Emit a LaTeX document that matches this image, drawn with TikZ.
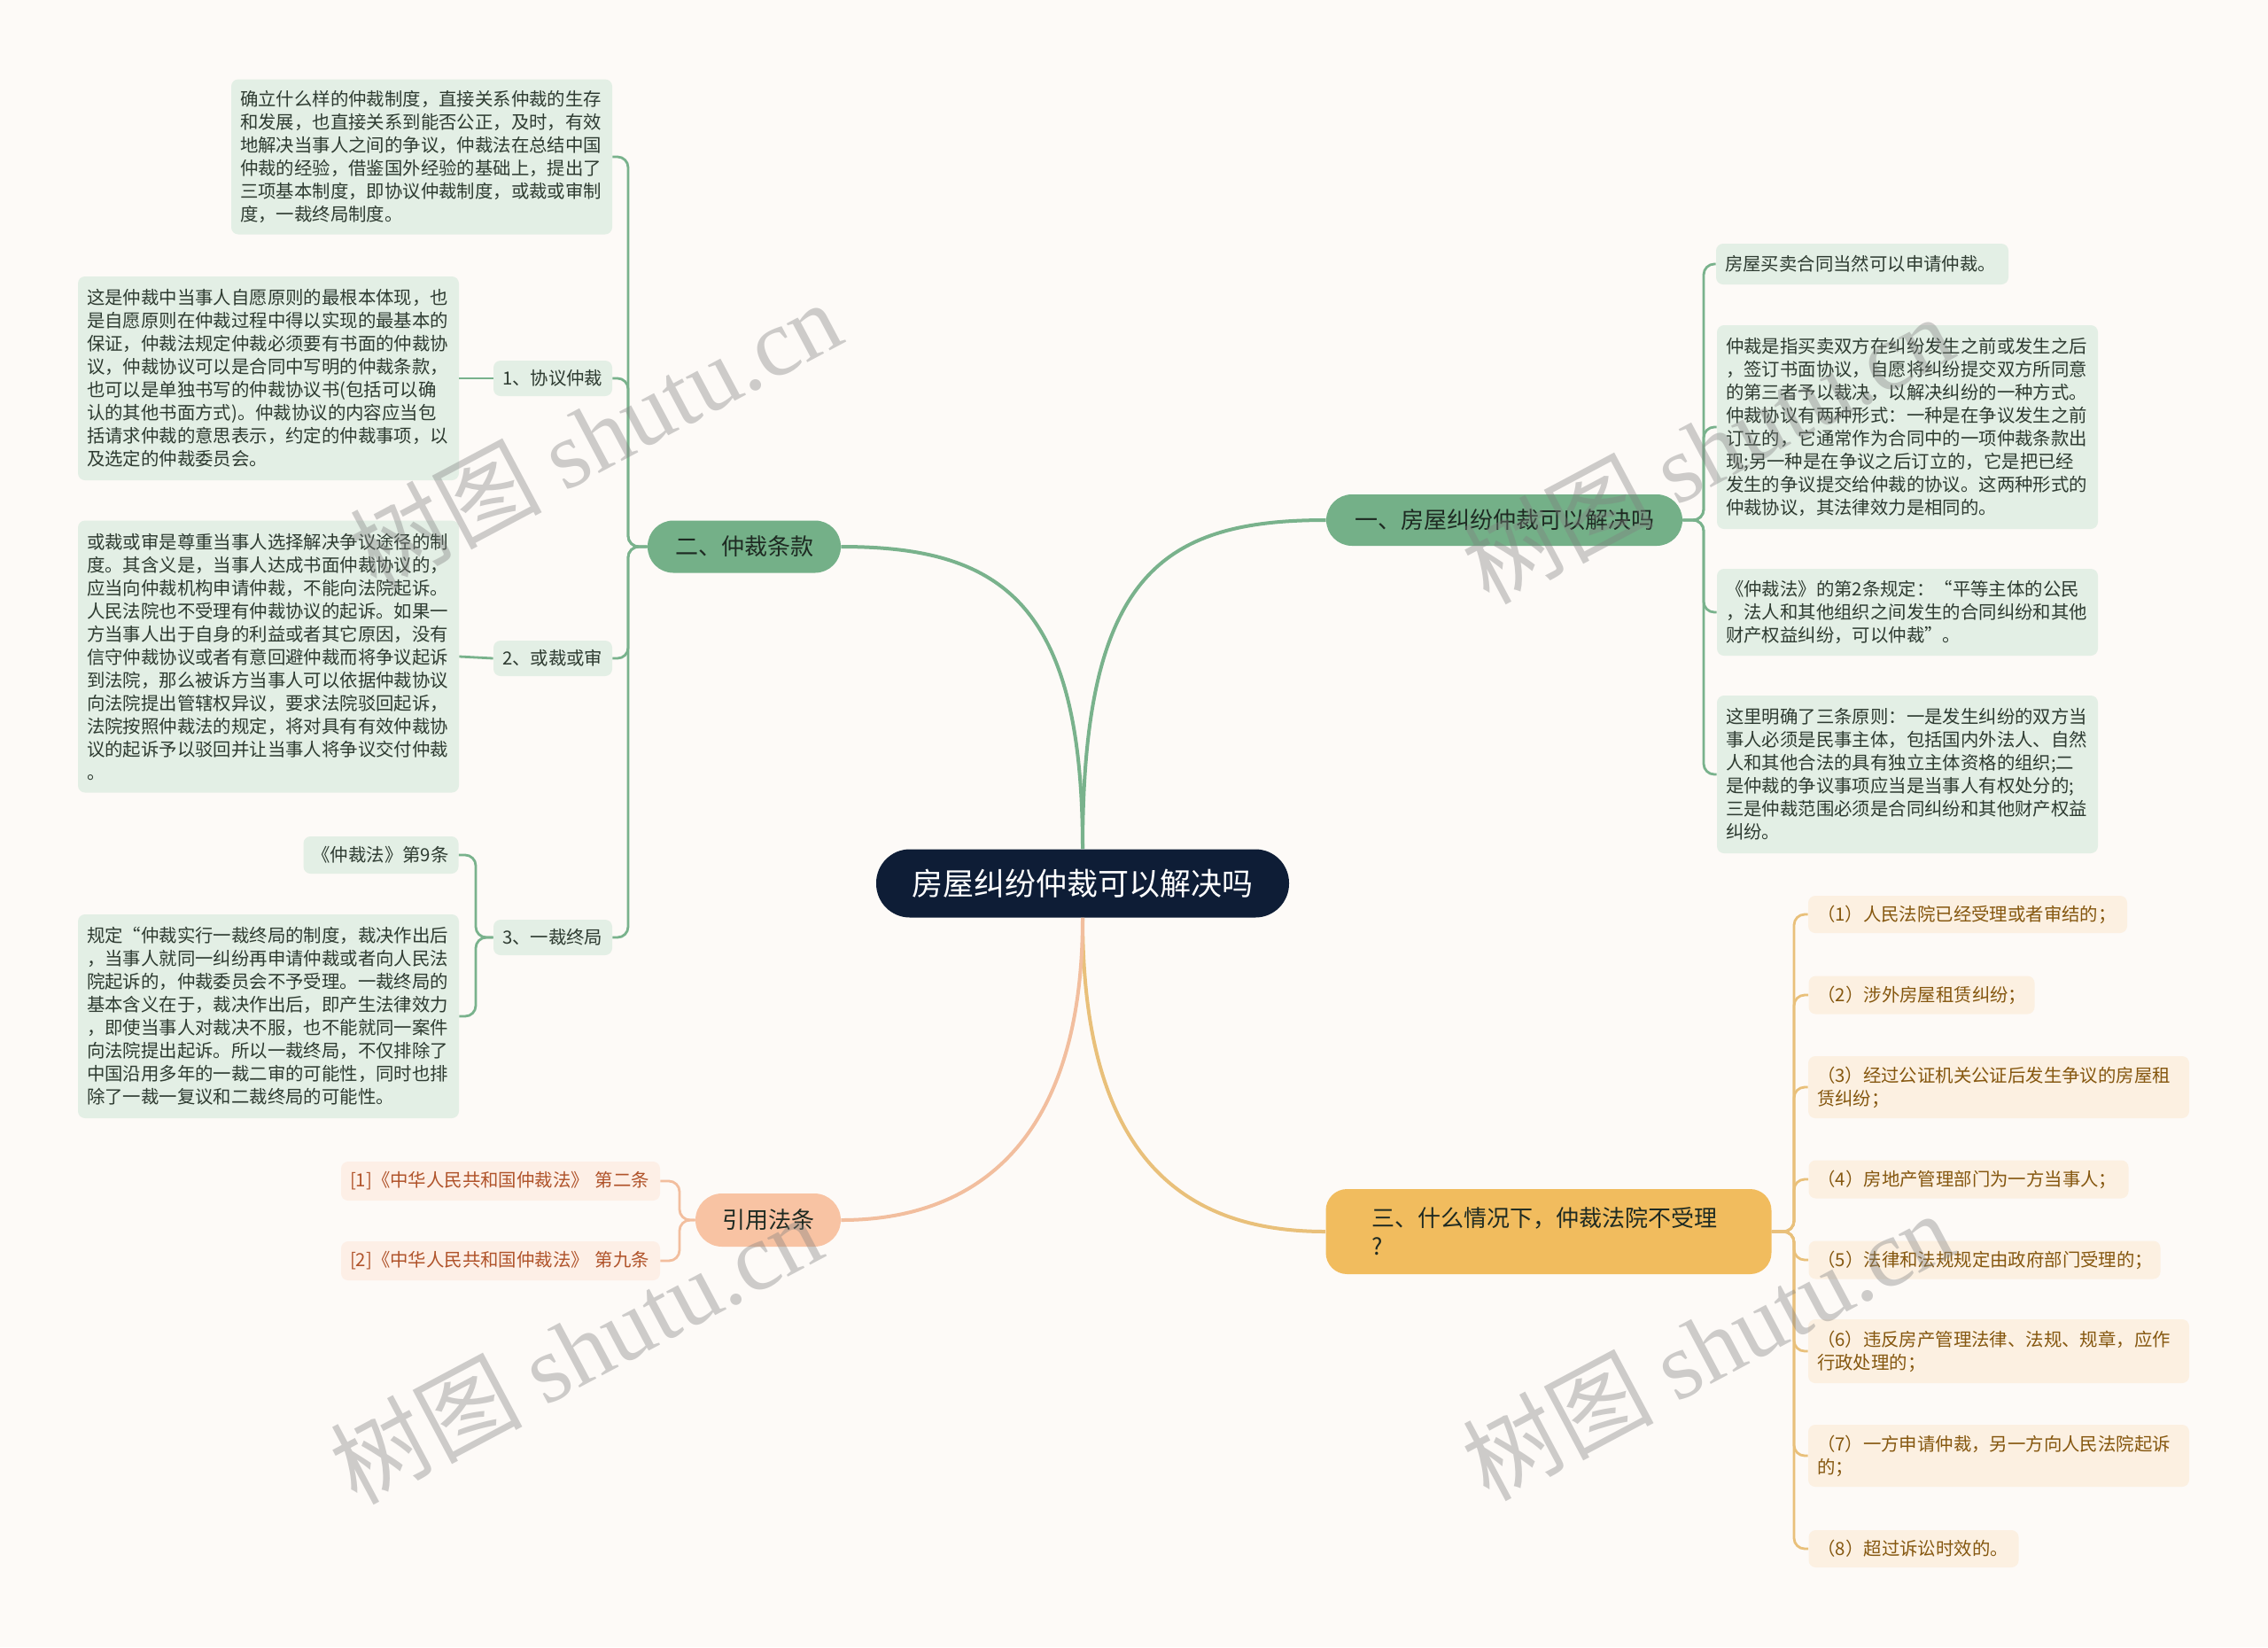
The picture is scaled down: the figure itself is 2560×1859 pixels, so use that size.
\documentclass[tikz,border=0pt]{standalone}
\usepackage{fontspec}
\setmainfont{Noto Sans CJK SC}
\newfontfamily\wmlatin{Liberation Serif}
\definecolor{bgc}{HTML}{FDFAF7}
\definecolor{navy}{HTML}{0E1D36}
\definecolor{gmain}{HTML}{74B088}
\definecolor{glinec}{HTML}{79B28C}
\definecolor{gleafc}{HTML}{E3EFE5}
\definecolor{gtext}{HTML}{2E3B31}
\definecolor{ymain}{HTML}{F1BC5E}
\definecolor{ylinec}{HTML}{E9C07A}
\definecolor{yleafc}{HTML}{FCF0E1}
\definecolor{ytext}{HTML}{85570F}
\definecolor{pmain}{HTML}{F8C3A3}
\definecolor{plinec}{HTML}{F2BE9E}
\definecolor{pleafc}{HTML}{FDEFE6}
\definecolor{ptext}{HTML}{B0532A}
\definecolor{darktext}{HTML}{1E2A22}
\tikzset{
  leaf/.style={rounded corners=4pt, inner xsep=5pt, inner ysep=3pt, align=left,
    font=\fontsize{10.2}{13}\selectfont, anchor=center},
  gleaf/.style={leaf, fill=gleafc, text=gtext},
  yleaf/.style={leaf, fill=yleafc, text=ytext},
  pleaf/.style={leaf, fill=pleafc, text=ptext},
  branch/.style={inner sep=0pt, align=center, font=\fontsize{13}{16}\selectfont, text=darktext},
  gsub/.style={draw=glinec, line width=1.4pt, rounded corners=6pt},
  ysub/.style={draw=ylinec, line width=1.4pt, rounded corners=6pt},
  psub/.style={draw=plinec, line width=1.4pt, rounded corners=6pt},
  wm/.style={rotate=28, text=black!50, opacity=0.38, font=\fontsize{54}{54}\selectfont}
}
\begin{document}
\begin{tikzpicture}[x=0.5pt,y=-0.5pt]
\useasboundingbox (0,0) rectangle (2560,1859);
\fill[bgc] (0,0) rectangle (2560,1859);

% spines
\coordinate (sp2) at (709,0);
\coordinate (sp3) at (537,0);
\coordinate (sp1) at (1923,0);
\coordinate (spy) at (2025,0);
\coordinate (spp) at (767,0);

% center
\node[fill=navy, text=white, rounded corners=19pt, minimum width=233pt, minimum height=38.5pt,
  inner sep=0pt, font=\fontsize{17.5}{20}\selectfont] (c) at (1222,997) {房屋纠纷仲裁可以解决吗};

% main branches
\node[branch, fill=gmain, rounded corners=14.5pt, minimum width=201pt, minimum height=29pt] (b1) at (1698,587) {一、房屋纠纷仲裁可以解决吗};
\node[branch, fill=gmain, rounded corners=14.5pt, minimum width=109pt, minimum height=29.5pt] (b2) at (840,617) {二、仲裁条款};
\node[branch, fill=ymain, rounded corners=12pt, minimum width=251.5pt, minimum height=48pt, align=left, text width=200pt] (b3) at (1748,1390) {三、什么情况下，仲裁法院不受理\\?};
\node[branch, fill=pmain, rounded corners=15pt, minimum width=82pt, minimum height=30pt] (b4) at (867,1377) {引用法条};

% left group (二)
\node[gleaf, text width=205pt, minimum height=87.5pt] (l1) at (476,177) {确立什么样的仲裁制度，直接关系仲裁的生存\\和发展，也直接关系到能否公正，及时，有效\\地解决当事人之间的争议，仲裁法在总结中国\\仲裁的经验，借鉴国外经验的基础上，提出了\\三项基本制度，即协议仲裁制度，或裁或审制\\度，一裁终局制度。};
\node[gleaf, text width=57pt, minimum height=20pt] (s1) at (624,427) {1、协议仲裁};
\node[gleaf, text width=57pt, minimum height=20pt] (s2) at (624,743) {2、或裁或审};
\node[gleaf, text width=57pt, minimum height=20pt] (s3) at (624,1058) {3、一裁终局};
\node[gleaf, text width=205pt, minimum height=115pt] (l2) at (303,427) {这是仲裁中当事人自愿原则的最根本体现，也\\是自愿原则在仲裁过程中得以实现的最基本的\\保证，仲裁法规定仲裁必须要有书面的仲裁协\\议，仲裁协议可以是合同中写明的仲裁条款，\\也可以是单独书写的仲裁协议书(包括可以确\\认的其他书面方式)。仲裁协议的内容应当包\\括请求仲裁的意思表示，约定的仲裁事项，以\\及选定的仲裁委员会。};
\node[gleaf, text width=205pt, minimum height=153.5pt] (l3) at (303,741) {或裁或审是尊重当事人选择解决争议途径的制\\度。其含义是，当事人达成书面仲裁协议的，\\应当向仲裁机构申请仲裁，不能向法院起诉。\\人民法院也不受理有仲裁协议的起诉。如果一\\方当事人出于自身的利益或者其它原因，没有\\信守仲裁协议或者有意回避仲裁而将争议起诉\\到法院，那么被诉方当事人可以依据仲裁协议\\向法院提出管辖权异议，要求法院驳回起诉，\\法院按照仲裁法的规定，将对具有有效仲裁协\\议的起诉予以驳回并让当事人将争议交付仲裁\\。};
\node[gleaf, text width=77.5pt, minimum height=21pt] (l4) at (430,965) {《仲裁法》第9条};
\node[gleaf, text width=205pt, minimum height=115pt] (l5) at (303,1147) {规定“仲裁实行一裁终局的制度，裁决作出后\\，当事人就同一纠纷再申请仲裁或者向人民法\\院起诉的，仲裁委员会不予受理。一裁终局的\\基本含义在于，裁决作出后，即产生法律效力\\，即使当事人对裁决不服，也不能就同一案件\\向法院提出起诉。所以一裁终局，不仅排除了\\中国沿用多年的一裁二审的可能性，同时也排\\除了一裁一复议和二裁终局的可能性。};

% right group (一)
\node[gleaf, text width=155pt, minimum height=23pt] (r1) at (2102,298) {房屋买卖合同当然可以申请仲裁。};
\node[gleaf, text width=205pt, minimum height=115pt] (r2) at (2153,482) {仲裁是指买卖双方在纠纷发生之前或发生之后\\，签订书面协议，自愿将纠纷提交双方所同意\\的第三者予以裁决，以解决纠纷的一种方式。\\仲裁协议有两种形式：一种是在争议发生之前\\订立的，它通常作为合同中的一项仲裁条款出\\现;另一种是在争议之后订立的，它是把已经\\发生的争议提交给仲裁的协议。这两种形式的\\仲裁协议，其法律效力是相同的。};
\node[gleaf, text width=205pt, minimum height=49pt] (r3) at (2153,691) {《仲裁法》的第2条规定：“平等主体的公民\\，法人和其他组织之间发生的合同纠纷和其他\\财产权益纠纷，可以仲裁”。};
\node[gleaf, text width=205pt, minimum height=89pt] (r4) at (2153,874) {这里明确了三条原则：一是发生纠纷的双方当\\事人必须是民事主体，包括国内外法人、自然\\人和其他合法的具有独立主体资格的组织;二\\是仲裁的争议事项应当是当事人有权处分的;\\三是仲裁范围必须是合同纠纷和其他财产权益\\纠纷。};

% yellow group (三)
\node[yleaf, text width=170pt, minimum height=21pt] (y1) at (2221,1032) {（1）人民法院已经受理或者审结的；};
\node[yleaf, text width=117.5pt, minimum height=21.5pt] (y2) at (2169,1123) {（2）涉外房屋租赁纠纷；};
\node[yleaf, text width=205pt, minimum height=35pt] (y3) at (2256,1227) {（3）经过公证机关公证后发生争议的房屋租\\赁纠纷；};
\node[yleaf, text width=170.5pt, minimum height=21.5pt] (y4) at (2222,1331) {（4）房地产管理部门为一方当事人；};
\node[yleaf, text width=188.5pt, minimum height=21.5pt] (y5) at (2240,1422) {（5）法律和法规规定由政府部门受理的；};
\node[yleaf, text width=205pt, minimum height=36pt] (y6) at (2256,1525) {（6）违反房产管理法律、法规、规章，应作\\行政处理的；};
\node[yleaf, text width=205pt, minimum height=35pt] (y7) at (2256,1643) {（7）一方申请仲裁，另一方向人民法院起诉\\的；};
\node[yleaf, text width=108.5pt, minimum height=21pt] (y8) at (2160,1748) {（8）超过诉讼时效的。};

% peach group
\node[pleaf, text width=170pt, minimum height=22pt] (p1) at (565,1333) {[1]《中华人民共和国仲裁法》 第二条};
\node[pleaf, text width=170pt, minimum height=22pt] (p2) at (565,1423) {[2]《中华人民共和国仲裁法》 第九条};

% main connectors
\draw[glinec, line width=2pt] (c.north) .. controls (1222,650) and (1310,587) .. (b1.west);
\draw[glinec, line width=2pt] (c.north) .. controls (1222,680) and (1130,617) .. (b2.east);
\draw[ylinec, line width=2pt] (c.south) .. controls (1222,1300) and (1330,1390) .. (b3.west);
\draw[plinec, line width=2pt] (c.south) .. controls (1222,1290) and (1100,1377) .. (b4.east);

% 二 sub connectors
\draw[gsub] (b2.west) -- (b2.west -| sp2) |- (l1.east);
\draw[gsub] (b2.west) -- (b2.west -| sp2) |- (s1.east);
\draw[gsub] (b2.west) -- (b2.west -| sp2) |- (s2.east);
\draw[gsub] (b2.west) -- (b2.west -| sp2) |- (s3.east);
\draw[gsub] (s1.west) -- (l2.east);
\draw[gsub] (s2.west) -- (l3.east);
\draw[gsub] (s3.west) -- (s3.west -| sp3) |- (l4.east);
\draw[gsub] (s3.west) -- (s3.west -| sp3) |- (l5.east);

% 一 sub connectors
\draw[gsub] (b1.east) -- (b1.east -| sp1) |- (r1.west);
\draw[gsub] (b1.east) -- (b1.east -| sp1) |- (r2.west);
\draw[gsub] (b1.east) -- (b1.east -| sp1) |- (r3.west);
\draw[gsub] (b1.east) -- (b1.east -| sp1) |- (r4.west);

% 三 sub connectors
\foreach \n in {y1,y2,y3,y4,y5,y6,y7,y8}
  \draw[ysub] (b3.east) -- (b3.east -| spy) |- (\n.west);

% peach sub connectors
\draw[psub] (b4.west) -- (b4.west -| spp) |- (p1.east);
\draw[psub] (b4.west) -- (b4.west -| spp) |- (p2.east);

% watermarks
\node[wm] (w1) at (672,490) {树图 {\wmlatin shutu.cn}};
\node[wm] (w2) at (1927,506) {树图 {\wmlatin shutu.cn}};
\node[wm] (w3) at (650,1522) {树图 {\wmlatin shutu.cn}};
\node[wm] (w4) at (1927,1518) {树图 {\wmlatin shutu.cn}};
\end{tikzpicture}
\end{document}
